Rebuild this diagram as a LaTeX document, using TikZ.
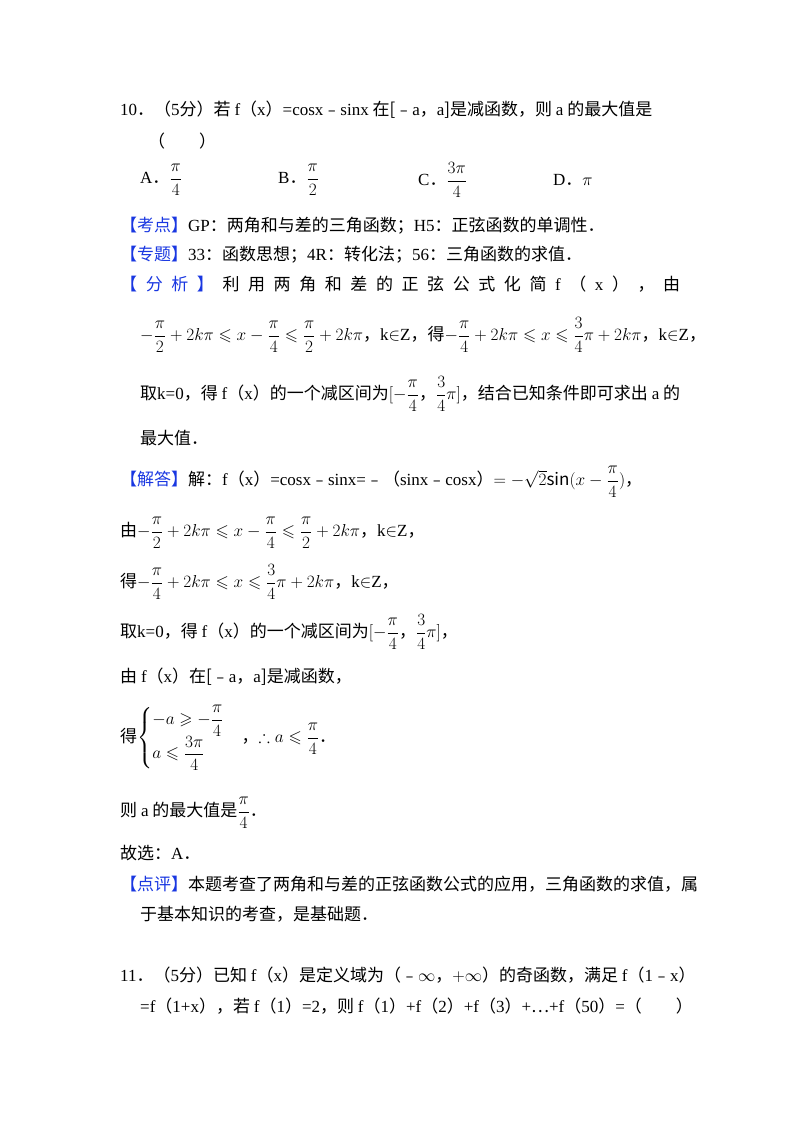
\documentclass[tikz,border=0pt]{standalone}
\usepackage{amsmath,amssymb}
\usepackage{fontspec}
\setmainfont{Noto Sans CJK SC}
\newfontfamily\en{Liberation Serif}
\definecolor{kblue}{RGB}{25,55,225}
\tikzset{t/.style={anchor=west,inner sep=0pt,font=\fontsize{17}{20}\selectfont}}
\newcommand{\kb}[1]{\textcolor{kblue}{#1}}
\begin{document}
\begin{tikzpicture}[x=1pt,y=-1pt]
\useasboundingbox (0,0) rectangle (800,1133);
\node[t] (l1) at (120,110) {{\en 10}．（{\en 5}分）若 {\en f}（{\en x}）{\en =cosx}﹣{\en sinx} 在[﹣{\en a}，{\en a}]是减函数，则 {\en a} 的最大值是};
\node[t] (l2) at (148,141) {（\quad\quad）};
\node[t] (oa) at (140,180) {{\en A}．$\dfrac{\pi}{4}$};
\node[t] (ob) at (278,180) {{\en B}．$\dfrac{\pi}{2}$};
\node[t] (oc) at (418,180) {{\en C}．$\dfrac{3\pi}{4}$};
\node[t] (od) at (553,180) {{\en D}．$\pi$};
\node[t] (kd) at (120,226) {\kb{【考点】}{\en GP}：两角和与差的三角函数；{\en H5}：正弦函数的单调性．};
\node[t] (zt) at (120,255) {\kb{【专题】}{\en 33}：函数思想；{\en 4R}：转化法；{\en 56}：三角函数的求值．};
\node[t] (fx) at (120,284) {\makebox[560pt][s]{\kb{【\hfill 分\hfill 析\hfill 】}\hfill 利\hfill 用\hfill 两\hfill 角\hfill 和\hfill 差\hfill 的\hfill 正\hfill 弦\hfill 公\hfill 式\hfill 化\hfill 简\hfill {\en f}\hfill （\hfill {\en x}\hfill ）\hfill ，\hfill 由}};
\node[t] (f1) at (140,335) {$-\dfrac{\pi}{2}+2k\pi\leqslant x-\dfrac{\pi}{4}\leqslant\dfrac{\pi}{2}+2k\pi$，{\en k}$\in${\en Z}，得$-\dfrac{\pi}{4}+2k\pi\leqslant x\leqslant\dfrac{3}{4}\pi+2k\pi$，{\en k}$\in${\en Z}，};
\node[t] (f2) at (140,394) {取{\en k=0}，得 {\en f}（{\en x}）的一个减区间为$[-\dfrac{\pi}{4}$，$\dfrac{3}{4}\pi]$，结合已知条件即可求出 {\en a} 的};
\node[t] (f3) at (140,438) {最大值．};
\node[t] (j1) at (120,482) {\kb{【解答】}解：{\en f}（{\en x}）{\en =cosx}﹣{\en sinx=}﹣（{\en sinx}﹣{\en cosx}）$=-\sqrt{2}\mathrm{sin}(x-\dfrac{\pi}{4})$，};
\node[t] (j2) at (120,533) {由$-\dfrac{\pi}{2}+2k\pi\leqslant x-\dfrac{\pi}{4}\leqslant\dfrac{\pi}{2}+2k\pi$，{\en k}$\in${\en Z}，};
\node[t] (j3) at (120,582) {得$-\dfrac{\pi}{4}+2k\pi\leqslant x\leqslant\dfrac{3}{4}\pi+2k\pi$，{\en k}$\in${\en Z}，};
\node[t] (j4) at (120,632) {取{\en k=0}，得 {\en f}（{\en x}）的一个减区间为$[-\dfrac{\pi}{4}$，$\dfrac{3}{4}\pi]$，};
\node[t] (j5) at (120,677) {由 {\en f}（{\en x}）在[﹣{\en a}，{\en a}]是减函数，};
\node[t] (j6) at (120,738) {得$\begin{cases}-a\geqslant-\dfrac{\pi}{4}\\[4pt] a\leqslant\dfrac{3\pi}{4}\end{cases}$，$\therefore a\leqslant\dfrac{\pi}{4}$．};
\node[t] (j7) at (120,813) {则 {\en a} 的最大值是$\dfrac{\pi}{4}$．};
\node[t] (j8) at (120,853) {故选：{\en A}．};
\node[t] (dp) at (120,884) {\kb{【点评】}本题考查了两角和与差的正弦函数公式的应用，三角函数的求值，属};
\node[t] (dp2) at (140,914) {于基本知识的考查，是基础题．};
\node[t] (q1) at (120,975) {{\en 11}．（{\en 5}分）已知 {\en f}（{\en x}）是定义域为（﹣$\infty$，$+\infty$）的奇函数，满足 {\en f}（{\en 1}﹣{\en x}）};
\node[t] (q2) at (140,1006) {{\en =f}（{\en 1+x}），若 {\en f}（{\en 1}）{\en =2}，则 {\en f}（{\en 1}）{\en +f}（{\en 2}）{\en +f}（{\en 3}）{\en +}…{\en +f}（{\en 50}）{\en =}（\quad\quad）};
\end{tikzpicture}
\end{document}
